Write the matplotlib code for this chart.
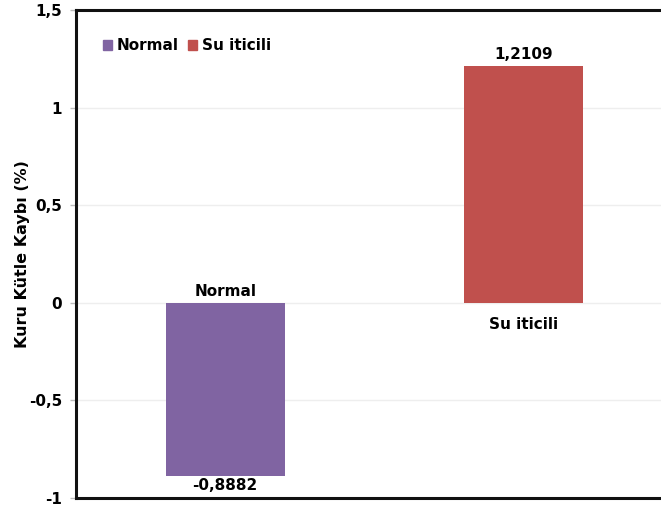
import matplotlib
matplotlib.use("Agg")
import matplotlib.pyplot as plt
from matplotlib.patches import Patch

categories = ["Normal", "Su iticili"]
values = [-0.8882, 1.2109]
value_labels = ["-0,8882", "1,2109"]
colors = ["#8064A2", "#C0504D"]
yticks = [-1, -0.5, 0, 0.5, 1, 1.5]
ytick_labels = ["-1", "-0,5", "0", "0,5", "1", "1,5"]

plt.rcParams["font.family"] = ["DejaVu Sans"]
plt.rcParams["font.weight"] = "bold"

fig = plt.figure(figsize=(6.61, 5.08), dpi=100)
ax = fig.add_axes([0.115, 0.0197, 0.903, 0.9606])

x = list(range(len(categories)))
ax.bar(x, values, width=0.4, color=colors, zorder=3)

ax.set_xlim(-0.5, 1.5)
ax.set_ylim(-1, 1.5)
ax.set_yticks(yticks)
ax.set_yticklabels(ytick_labels, fontsize=11, fontweight="bold")
ax.set_xticks([])
ax.tick_params(axis="y", length=4, width=1, color="#bbbbbb", pad=6)

for v in yticks[1:-1]:
    ax.axhline(v, color="#eeeeee", lw=1, zorder=1)

for s in ["left", "bottom", "top", "right"]:
    ax.spines[s].set_linewidth(2.2)
    ax.spines[s].set_color("#111111")

# values at the bar ends
for xi, v, lab in zip(x, values, value_labels):
    if v >= 0:
        ax.annotate(lab, (xi, v), xytext=(0, 3), textcoords="offset points",
                    ha="center", va="bottom", fontsize=11, fontweight="bold")
    else:
        ax.annotate(lab, (xi, v), xytext=(0, -1), textcoords="offset points",
                    ha="center", va="top", fontsize=11, fontweight="bold")

# category names at the zero line, on the side opposite the bar
for xi, v, name in zip(x, values, categories):
    if v < 0:
        ax.annotate(name, (xi, 0), xytext=(0, 3), textcoords="offset points",
                    ha="center", va="bottom", fontsize=11, fontweight="bold")
    else:
        ax.annotate(name, (xi, 0), xytext=(0, -10), textcoords="offset points",
                    ha="center", va="top", fontsize=11, fontweight="bold")

ax.set_ylabel("Kuru Kütle Kaybı (%)", fontsize=11.5, fontweight="bold", labelpad=-1)

handles = [Patch(color=c, label=n) for c, n in zip(colors, categories)]
ax.legend(handles=handles, loc="upper left", bbox_to_anchor=(0.022, 0.97),
          ncol=2, frameon=False, handlelength=0.6, handleheight=0.6,
          handletextpad=0.3, columnspacing=0.6,
          prop={"size": 11, "weight": "bold"})

fig.savefig("out.png", dpi=100)
